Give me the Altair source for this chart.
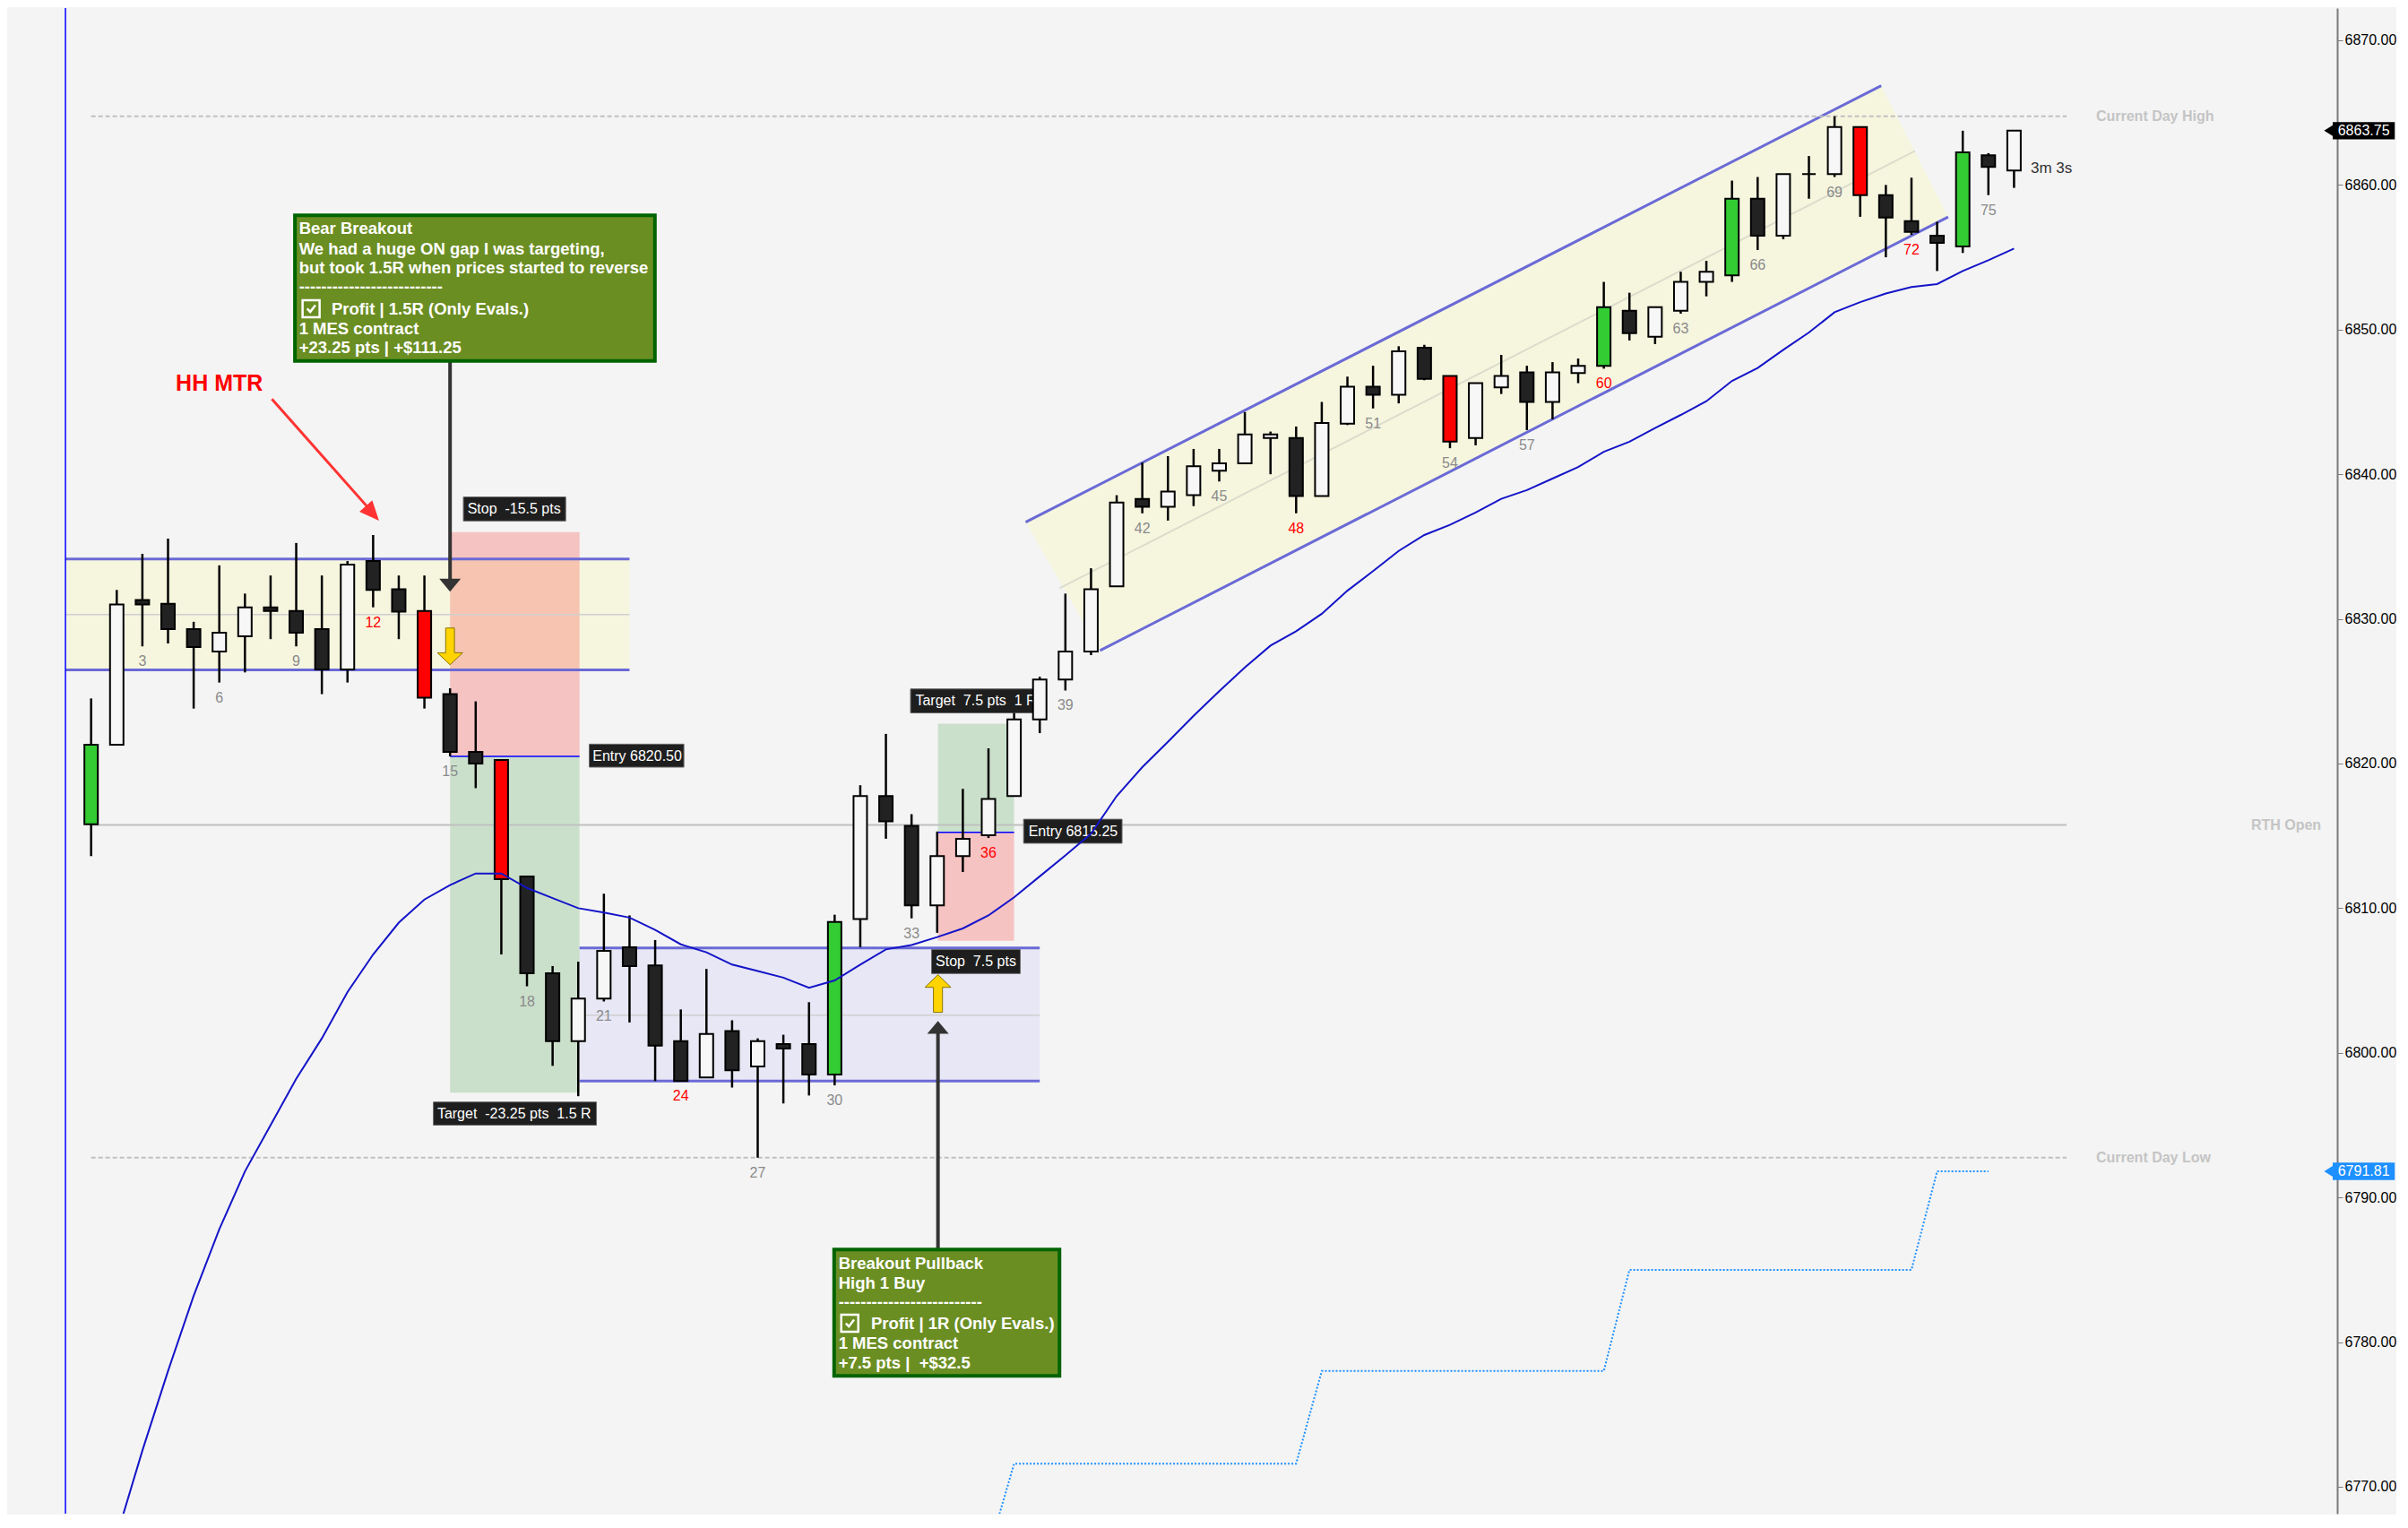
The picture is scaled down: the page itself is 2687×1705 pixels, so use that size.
import altair as alt
import pandas as pd

# ---------------- data ----------------
bars = list(range(1, 77))
opens = [6815.8, 6821.3, 6831.3, 6831.05, 6829.3, 6827.75, 6828.8, 6830.8, 6830.55, 6829.3,
         6826.5, 6834.0, 6832.05, 6830.55, 6824.8, 6820.8, 6820.25, 6812.2, 6805.5, 6800.8,
         6803.75, 6807.3, 6806.05, 6800.8, 6798.3, 6801.5, 6799.05, 6800.6, 6800.6, 6798.5,
         6809.25, 6817.75, 6815.7, 6810.2, 6813.6, 6815.05, 6817.75, 6823.05, 6825.8, 6827.75,
         6832.25, 6838.3, 6837.75, 6838.55, 6840.25, 6840.75, 6842.5, 6842.5, 6838.5, 6843.5,
         6846.05, 6845.5, 6848.75, 6846.8, 6842.5, 6846.0, 6847.05, 6845.0, 6847.0, 6847.5,
         6851.3, 6849.5, 6851.3, 6853.3, 6853.75, 6859.05, 6856.5, 6860.75, 6860.75, 6864.0,
         6859.3, 6857.5, 6856.5, 6855.75, 6862.05, 6861.0]
highs = [6824.5, 6832.0, 6834.5, 6835.55, 6829.8, 6833.7, 6831.75, 6833.0, 6835.25, 6833.0,
         6834.0, 6835.8, 6833.0, 6833.0, 6825.2, 6824.3, 6820.3, 6812.2, 6806.0, 6806.3,
         6811.0, 6809.5, 6807.8, 6803.0, 6805.8, 6802.25, 6801.0, 6801.25, 6803.5, 6809.55,
         6818.5, 6822.05, 6816.5, 6815.3, 6818.25, 6821.05, 6823.5, 6826.0, 6831.75, 6833.5,
         6838.55, 6840.8, 6841.25, 6841.75, 6841.75, 6844.3, 6842.95, 6843.3, 6845.0, 6846.75,
         6847.5, 6848.85, 6848.95, 6846.8, 6846.3, 6848.25, 6847.5, 6847.75, 6848.0, 6853.3,
         6852.55, 6851.55, 6854.0, 6854.75, 6860.3, 6860.55, 6860.75, 6862.0, 6864.75, 6864.0,
         6860.0, 6860.5, 6857.45, 6863.75, 6862.2, 6863.75]
lows = [6813.6, 6821.3, 6828.1, 6828.3, 6823.8, 6825.6, 6826.3, 6828.6, 6828.1, 6824.8,
        6825.6, 6830.8, 6828.6, 6823.8, 6820.5, 6818.3, 6806.8, 6804.6, 6799.1, 6797.0,
        6803.55, 6802.1, 6798.05, 6798.05, 6798.3, 6797.6, 6792.75, 6796.5, 6797.05, 6797.75,
        6807.3, 6814.8, 6809.3, 6808.3, 6812.5, 6814.85, 6817.75, 6822.1, 6825.05, 6827.5,
        6832.25, 6837.3, 6836.8, 6837.8, 6839.5, 6840.75, 6840.0, 6837.3, 6838.5, 6843.4,
        6844.55, 6844.9, 6846.5, 6841.8, 6842.0, 6845.55, 6843.05, 6843.8, 6846.3, 6847.3,
        6849.25, 6849.0, 6851.1, 6852.3, 6853.3, 6855.5, 6856.25, 6859.05, 6860.55, 6857.8,
        6855.0, 6856.55, 6854.05, 6855.3, 6859.3, 6859.8]
closes = [6821.3, 6831.0, 6831.0, 6829.3, 6828.05, 6829.05, 6830.8, 6830.55, 6829.05, 6826.5,
          6833.75, 6832.0, 6830.5, 6824.55, 6820.8, 6820.0, 6812.0, 6805.5, 6800.8, 6803.75,
          6807.05, 6806.0, 6800.5, 6798.05, 6801.3, 6798.8, 6800.8, 6800.3, 6798.5, 6809.05,
          6817.75, 6816.0, 6810.2, 6813.6, 6814.8, 6817.55, 6823.05, 6825.8, 6827.75, 6832.05,
          6838.05, 6837.75, 6838.8, 6840.55, 6840.75, 6842.75, 6842.75, 6838.5, 6843.55, 6846.05,
          6845.5, 6848.5, 6846.6, 6842.25, 6846.3, 6846.8, 6845.0, 6847.05, 6847.5, 6851.55,
          6849.75, 6851.55, 6853.3, 6854.0, 6859.05, 6856.5, 6860.75, 6860.75, 6864.0, 6859.3,
          6857.75, 6856.75, 6856.0, 6862.25, 6861.25, 6863.75]
# g = green signal bar, r = red signal bar, w = up bar, b = down bar
kinds = ["g", "w", "b", "b", "b", "w", "w", "b", "b", "b",
         "w", "b", "b", "r", "b", "b", "r", "b", "b", "w",
         "w", "b", "b", "b", "w", "b", "w", "b", "b", "g",
         "w", "b", "b", "w", "w", "w", "w", "w", "w", "w",
         "w", "b", "w", "w", "w", "w", "w", "b", "w", "w",
         "b", "w", "b", "r", "w", "w", "b", "w", "w", "g",
         "b", "w", "w", "w", "g", "b", "w", "b", "w", "r",
         "b", "b", "b", "g", "b", "w"]

ema_bars = list(range(2, 77))
ema_vals = [6766.6, 6772.5, 6778.0, 6783.2, 6787.8, 6791.8, 6795.0, 6798.2, 6801.0, 6804.2,
            6806.8, 6809.0, 6810.6, 6811.6, 6812.4, 6812.4, 6811.4, 6810.7, 6810.0, 6809.7,
            6809.35, 6808.5, 6807.5, 6806.95, 6806.1, 6805.65, 6805.2, 6804.5, 6805.0, 6806.1,
            6807.15, 6807.45, 6808.0, 6808.6, 6809.5, 6810.75, 6812.2, 6813.65, 6815.15, 6817.75,
            6819.75, 6821.5, 6823.3, 6825.0, 6826.65, 6828.15, 6829.15, 6830.35, 6831.95, 6833.3,
            6834.7, 6835.8, 6836.5, 6837.35, 6838.3, 6838.9, 6839.7, 6840.5, 6841.55, 6842.25,
            6843.2, 6844.1, 6845.05, 6846.45, 6847.35, 6848.6, 6849.8, 6851.2, 6851.9, 6852.5,
            6852.95, 6853.15, 6854.05, 6854.8, 6855.6]

step_x = [36, 37, 48, 49, 60, 61, 72, 73, 75]
step_y = [6765.5, 6771.6, 6771.6, 6778.0, 6778.0, 6785.0, 6785.0, 6791.81, 6791.81]

day_high = 6864.75
day_low = 6792.75
rth_open = 6815.75
last_price = 6863.75
step_last = 6791.81
tick_values = [6770, 6780, 6790, 6800, 6810, 6820, 6830, 6840, 6850, 6860, 6870]

# trades: entry, stop, target, x range
t1_entry, t1_stop, t1_target, t1_x = 6820.5, 6836.0, 6797.25, (15.0, 20.05)
t2_entry, t2_stop, t2_target, t2_x = 6815.25, 6807.75, 6822.75, (34.03, 37.0)

# range boxes
ybox = dict(x=0, x2=22, lo=6826.48, hi=6834.14, mid=6830.3)
lbox = dict(x=20.05, x2=38.0, lo=6798.05, hi=6807.25, mid=6802.6)
# channel
ch_up = [(37.45, 6836.69), (70.82, 6866.86)]
ch_lo = [(40.35, 6827.81), (73.43, 6857.79)]
ch_mid = [(38.77, 6832.12), (72.14, 6862.35)]

# ---------------- scales ----------------
W, H = 2600, 1680
XD = [-2.099, 88.43]
YD = [6768.14, 6872.23]
xs = alt.Scale(domain=XD, nice=False, zero=False)
ys = alt.Scale(domain=YD, nice=False, zero=False)
yaxis = alt.Axis(orient="right", values=tick_values, format=".2f", grid=False,
                 domainColor="#7a7a7a", domainWidth=2, tickColor="#7a7a7a", tickSize=6,
                 tickWidth=1, labelPadding=2, labelFontSize=16, labelColor="#000000",
                 labelFont="Liberation Sans", title=None, labelFlush=False)


def X(f="x"):
    return alt.X(f"{f}:Q", scale=xs, axis=None)


def Y(f="y"):
    return alt.Y(f"{f}:Q", scale=ys, axis=yaxis)


def rect_layer(rows, **mk):
    df = pd.DataFrame(rows, columns=["x", "x2", "y", "y2"])
    return alt.Chart(df).mark_rect(**mk).encode(x=X(), x2="x2:Q", y=Y(), y2="y2:Q")


def seg_layer(rows, **mk):
    df = pd.DataFrame(rows, columns=["x", "y", "x2", "y2"])
    return alt.Chart(df).mark_rule(**mk).encode(x=X(), y=Y(), x2="x2:Q", y2="y2:Q")


def text_layer(rows, **mk):
    df = pd.DataFrame(rows, columns=["x", "y", "t"])
    return alt.Chart(df).mark_text(**mk).encode(x=X(), y=Y(), text="t:N")


def point_layer(rows, **mk):
    df = pd.DataFrame(rows, columns=["x", "y"])
    return alt.Chart(df).mark_point(**mk).encode(x=X(), y=Y())


layers = []

# background boxes
layers.append(rect_layer([(ybox["x"], ybox["x2"], ybox["lo"], ybox["hi"])], color="#f6f6df"))
layers.append(rect_layer([(lbox["x"], lbox["x2"], lbox["lo"], lbox["hi"])], color="#e7e7f5"))

# channel parallelogram
slope_u = (ch_up[1][1] - ch_up[0][1]) / (ch_up[1][0] - ch_up[0][0])
slope_l = (ch_lo[1][1] - ch_lo[0][1]) / (ch_lo[1][0] - ch_lo[0][0])
ch_df = pd.DataFrame({
    "x": [ch_up[0][0], ch_lo[0][0], ch_up[1][0], ch_lo[1][0]],
    "y": [ch_up[0][1], ch_up[0][1] + slope_u * (ch_lo[0][0] - ch_up[0][0]), ch_up[1][1], ch_lo[1][1]],
    "y2": [ch_up[0][1], ch_lo[0][1], ch_lo[0][1] + slope_l * (ch_up[1][0] - ch_lo[0][0]), ch_lo[1][1]],
})
layers.append(alt.Chart(ch_df).mark_area(color="#f6f6df", interpolate="linear").encode(
    x=X(), y=Y(), y2="y2:Q"))

# trade boxes
layers.append(rect_layer([(t1_x[0], t1_x[1], t1_entry, t1_stop), (t2_x[0], t2_x[1], t2_stop, t2_entry)],
                         color="#ff0000", opacity=0.2))
layers.append(rect_layer([(t1_x[0], t1_x[1], t1_target, t1_entry), (t2_x[0], t2_x[1], t2_entry, t2_target)],
                         color="#008000", opacity=0.165))

# mid gray lines
layers.append(seg_layer([(ybox["x"], ybox["mid"], ybox["x2"], ybox["mid"]),
                         (lbox["x"], lbox["mid"], lbox["x2"], lbox["mid"])],
                        color="#cfcfcf", strokeWidth=1.5))
layers.append(seg_layer([(ch_mid[0][0], ch_mid[0][1], ch_mid[1][0], ch_mid[1][1])],
                        color="#dcdccc", strokeWidth=2))
# box & channel borders
layers.append(seg_layer([(ybox["x"], ybox["hi"], ybox["x2"], ybox["hi"]),
                         (ybox["x"], ybox["lo"], ybox["x2"], ybox["lo"]),
                         (lbox["x"], lbox["hi"], lbox["x2"], lbox["hi"]),
                         (lbox["x"], lbox["lo"], lbox["x2"], lbox["lo"]),
                         (ch_up[0][0], ch_up[0][1], ch_up[1][0], ch_up[1][1]),
                         (ch_lo[0][0], ch_lo[0][1], ch_lo[1][0], ch_lo[1][1])],
                        color="#6a6ad6", strokeWidth=3))

# day high / low / RTH open
layers.append(seg_layer([(1, day_high, 78.05, day_high), (1, day_low, 78.05, day_low)],
                        color="#c0c0c0", strokeWidth=2, strokeDash=[5, 3]))
layers.append(seg_layer([(1, rth_open, 78.05, rth_open)], color="#c0c0c0", strokeWidth=2))
# session line
layers.append(seg_layer([(0, YD[0], 0, YD[1])], color="#0000ff", strokeWidth=1.5))
# entry lines
layers.append(seg_layer([(t1_x[0], t1_entry, t1_x[1], t1_entry), (t2_x[0], t2_entry, t2_x[1], t2_entry)],
                        color="#0000ff", strokeWidth=1.5))

# dotted step line
layers.append(alt.Chart(pd.DataFrame({"x": step_x, "y": step_y})).mark_line(
    color="#1e90ff", strokeWidth=2, strokeDash=[2, 2], clip=True).encode(x=X(), y=Y()))

# line labels
lab_font = dict(font="Liberation Sans", fontSize=16, fontWeight="bold", color="#c4c4c4",
                baseline="middle")
layers.append(text_layer([(79.2, day_high, "Current Day High"), (79.2, day_low, "Current Day Low")],
                         align="left", **lab_font))
layers.append(text_layer([(87.98, rth_open, "RTH Open")], align="right", **lab_font))

# trade labels
tl_rects = [(15.52, 19.51, 6836.77, 6838.43), (20.43, 24.12, 6819.75, 6821.34),
            (14.35, 20.71, 6795.0, 6796.6), (32.96, 38.0, 6823.5, 6825.16),
            (37.37, 41.21, 6814.49, 6816.15), (33.78, 37.24, 6805.48, 6807.14)]
tl_texts = [(15.68, 6837.6, "Stop\u00a0 -15.5 pts"), (20.56, 6820.52, "Entry 6820.50"),
            (14.5, 6795.8, "Target\u00a0 -23.25 pts\u00a0 1.5 R"), (33.15, 6824.33, "Target\u00a0 7.5 pts\u00a0 1 R"),
            (37.56, 6815.32, "Entry 6815.25"), (33.94, 6806.3, "Stop\u00a0 7.5 pts")]
layers.append(rect_layer(tl_rects, color="#1e1e1e", stroke="#6a6a6a", strokeWidth=1))
layers.append(text_layer(tl_texts, align="left", baseline="middle", font="Liberation Sans",
                         fontSize=16, color="#ffffff"))

# candles
cdf = pd.DataFrame({"x": bars, "o": opens, "h": highs, "l": lows, "c": closes, "k": kinds})
fillmap = {"g": "#33cc33", "r": "#ff0000", "w": "#f7f7f7", "b": "#222222"}
cdf["fill"] = cdf["k"].map(fillmap)
layers.append(alt.Chart(cdf).mark_rule(color="#000000", strokeWidth=2.5).encode(
    x=X(), y=Y("l"), y2="h:Q"))
layers.append(alt.Chart(cdf).mark_bar(size=15, stroke="#000000", strokeWidth=2).encode(
    x=X(), y=Y("o"), y2="c:Q", color=alt.Color("fill:N", scale=None)))

# bar numbers
ldf = cdf[cdf["x"] % 3 == 0].copy()
ldf["t"] = ldf["x"].astype(str)
ldf["lc"] = ["#ff0000" if v % 12 == 0 else "#8a8a8a" for v in ldf["x"]]
layers.append(alt.Chart(ldf).mark_text(fontSize=16, font="Liberation Sans", dy=17,
                                       baseline="middle", align="center").encode(
    x=X(), y=Y("l"), text="t:N", color=alt.Color("lc:N", scale=None)))

# EMA
layers.append(alt.Chart(pd.DataFrame({"x": ema_bars, "y": ema_vals})).mark_line(
    color="#1414c8", strokeWidth=2, clip=True).encode(x=X(), y=Y()))

# yellow arrows
down_arrow = "M-0.24,-1 L0.24,-1 L0.24,0.35 L0.69,0.35 L0,1 L-0.69,0.35 L-0.24,0.35 Z"
up_arrow = "M-0.24,1 L0.24,1 L0.24,-0.33 L0.69,-0.33 L0,-1 L-0.69,-0.33 L-0.24,-0.33 Z"
layers.append(point_layer([(15.0, 6828.1)], shape=down_arrow, size=1681, filled=True,
                          fill="#ffd400", stroke="#8a7400", strokeWidth=1, opacity=1))
layers.append(point_layer([(34.03, 6804.1)], shape=up_arrow, size=1764, filled=True,
                          fill="#ffd400", stroke="#8a7400", strokeWidth=1, opacity=1))

# pointer lines from notes
layers.append(seg_layer([(15.0, 6847.84, 15.0, 6832.6), (34.03, 6786.4, 34.03, 6801.5)],
                        color="#333333", strokeWidth=4))
layers.append(point_layer([(15.0, 6832.33)], shape="M-1,-0.6 L1,-0.6 L0,0.6 Z", size=576,
                          filled=True, color="#333333", opacity=1))
layers.append(point_layer([(34.03, 6801.76)], shape="M-1,0.6 L1,0.6 L0,-0.6 Z", size=576,
                          filled=True, color="#333333", opacity=1))

# HH MTR arrow
layers.append(seg_layer([(8.05, 6845.2, 12.05, 6837.2)], color="#ff3333", strokeWidth=3))
layers.append(point_layer([(12.23, 6836.79)], shape="M0,0 L0.7,1.6 L-0.7,1.6 Z", size=756,
                          filled=True, color="#ff3333", opacity=1, angle=138))
layers.append(text_layer([(6.0, 6846.24, "HH MTR")], align="center", baseline="middle",
                         font="Liberation Sans", fontSize=25, fontWeight="bold", color="#ff0000"))

# note boxes
note_font = dict(align="left", baseline="middle", font="Liberation Sans", fontSize=18.5,
                 fontWeight="bold", color="#ffffff")
layers.append(rect_layer([(8.95, 22.99, 6847.84, 6857.9), (29.98, 38.77, 6777.66, 6786.4)],
                         color="#6b8e23", stroke="#006400", strokeWidth=4))
note_rows = [
    (9.11, 6856.97, "Bear Breakout"),
    (9.11, 6855.58, "We had a huge ON gap I was targeting,"),
    (9.11, 6854.28, "but took 1.5R when prices started to reverse"),
    (9.11, 6852.94, "--------------------------"),
    (10.38, 6851.41, "Profit | 1.5R (Only Evals.)"),
    (9.11, 6850.07, "1 MES contract"),
    (9.11, 6848.73, "+23.25 pts | +$111.25"),
    (30.15, 6785.43, "Breakout Pullback"),
    (30.15, 6784.08, "High 1 Buy"),
    (30.15, 6782.78, "--------------------------"),
    (31.42, 6781.29, "Profit | 1R (Only Evals.)"),
    (30.15, 6779.91, "1 MES contract"),
    (30.15, 6778.55, "+7.5 pts |\u00a0 +$32.5"),
]
layers.append(text_layer(note_rows, **note_font))
# check boxes
layers.append(point_layer([(9.58, 6851.45), (30.59, 6781.3)], shape="square", size=361,
                          filled=False, color="#ffffff", strokeWidth=2.5, opacity=1))
layers.append(point_layer([(9.58, 6851.45), (30.59, 6781.3)],
                          shape="M-0.55,0 L-0.12,0.45 L0.6,-0.5", size=256,
                          filled=False, color="#ffffff", strokeWidth=2.5, opacity=1))

# countdown text
layers.append(text_layer([(76.65, 6861.16, "3m 3s")], align="left", baseline="middle",
                         font="Liberation Sans", fontSize=17, color="#333333"))

# price tags on the axis
tag_x0, tag_x1 = XD[1], 90.85
for price, col in [(last_price, "#000000"), (step_last, "#1e90ff")]:
    layers.append(rect_layer([(tag_x0, tag_x1, price - 0.6, price + 0.6)], color=col))
    layers.append(point_layer([(tag_x0 - 0.21, price)], shape="M1,-1 L1,1 L-0.6,0 Z", size=144,
                              filled=True, color=col, opacity=1))
layers.append(text_layer([((tag_x0 + tag_x1) / 2, last_price, f"{last_price:.2f}"),
                          ((tag_x0 + tag_x1) / 2, step_last, f"{step_last:.2f}")],
                         align="center", baseline="middle", font="Liberation Sans",
                         fontSize=16, color="#ffffff"))

chart = alt.layer(*layers).properties(
    width=W, height=H, background="#f4f4f4", padding=0
).configure_view(stroke=None, fill="#f4f4f4")

chart.save("out.html", embed_options={"renderer": "svg", "actions": False})
